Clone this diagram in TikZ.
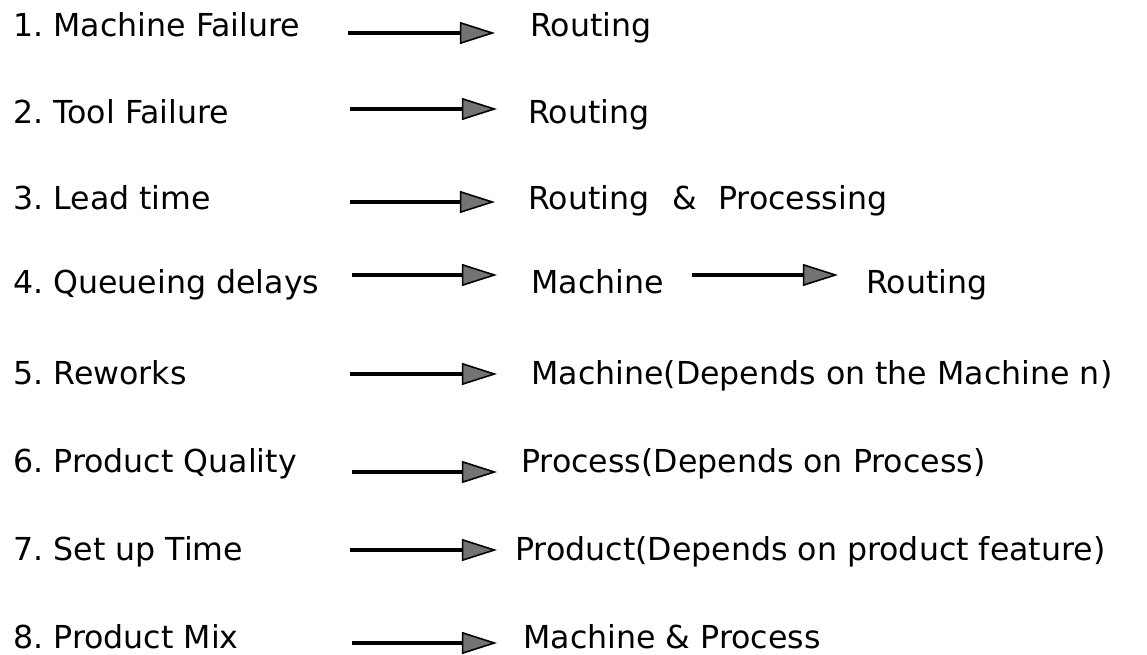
\documentclass[tikz,border=0pt]{standalone}
\usepackage{fontspec}
\setmainfont{DejaVu Sans}
\usepackage{tikz}
\usetikzlibrary{arrows.meta}
\frenchspacing
\tikzset{lbl/.style={anchor=base west,inner sep=0pt,font=\fontsize{18}{22}\selectfont}}
\tikzset{flow/.style={line width=1.8pt,-{Triangle[length=20pt,width=12.5pt,fill=black!55,line width=0.9pt]}}}

\begin{document}
\begin{tikzpicture}[x=0.02cm,y=-0.02cm]
    \useasboundingbox (0,0) rectangle (1147,655);
    % causes
    \node[lbl] (l1) at (13,37) {1. Machine Failure};
    \node[lbl] (l2) at (13,124) {2. Tool Failure};
    \node[lbl] (l3) at (13,210) {3. Lead time};
    \node[lbl] (l4) at (13,294) {4. Queueing delays};
    \node[lbl] (l5) at (13,385) {5. Reworks};
    \node[lbl] (l6) at (13,472) {6. Product Quality};
    \node[lbl] (l7) at (13,560) {7. Set up Time};
    \node[lbl] (l8) at (13,648) {8. Product Mix};
    % affected parts
    \node[lbl] (t1) at (530,37) {Routing};
    \node[lbl] (t2) at (528,124) {Routing};
    \node[lbl] (t3) at (528,210) {Routing\hspace{13pt}\&\hspace{12pt}Processing};
    \node[lbl] (t4) at (531,294) {Machine};
    \node[lbl] (t4b) at (866,294) {Routing};
    \node[lbl] (t5) at (531,385) {Machine(Depends on the Machine n)};
    \node[lbl] (t6) at (521,472) {Process(Depends on Process)};
    \node[lbl] (t7) at (515,560) {Product(Depends on product feature)};
    \node[lbl] (t8) at (523,648) {Machine \& Process};
    % arrow ends
    \coordinate (s1) at (348,33);  \coordinate (e1) at (495,33);
    \coordinate (s2) at (350,109); \coordinate (e2) at (497,109);
    \coordinate (s3) at (350,202); \coordinate (e3) at (495,202);
    \coordinate (s4) at (352,275); \coordinate (e4) at (497,275);
    \coordinate (s4b) at (692,275); \coordinate (e4b) at (838,275);
    \coordinate (s5) at (350,374); \coordinate (e5) at (497,374);
    \coordinate (s6) at (352,472); \coordinate (e6) at (497,472);
    \coordinate (s7) at (350,550); \coordinate (e7) at (497,550);
    \coordinate (s8) at (352,643); \coordinate (e8) at (497,643);
    \draw[flow] (s1) -- (e1);
    \draw[flow] (s2) -- (e2);
    \draw[flow] (s3) -- (e3);
    \draw[flow] (s4) -- (e4);
    \draw[flow] (s4b) -- (e4b);
    \draw[flow] (s5) -- (e5);
    \draw[flow] (s6) -- (e6);
    \draw[flow] (s7) -- (e7);
    \draw[flow] (s8) -- (e8);
\end{tikzpicture}
\end{document}
